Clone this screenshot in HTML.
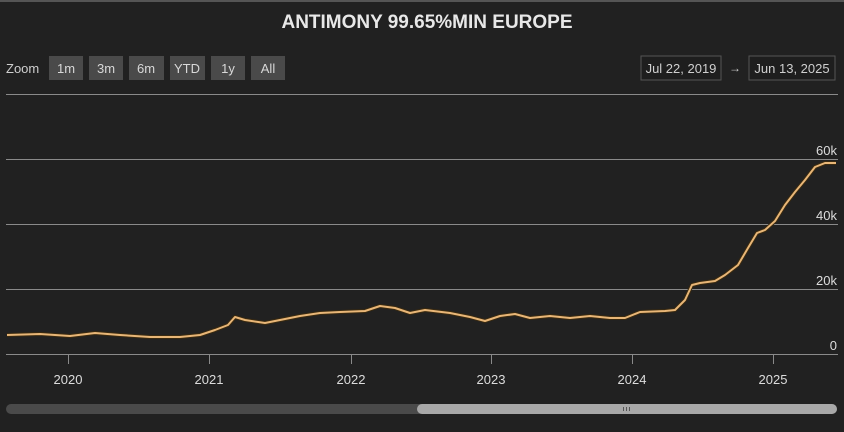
<!DOCTYPE html>
<html><head><style>
body{margin:0;background:#212121;width:844px;height:427px;overflow:hidden;font-family:"Liberation Sans",sans-serif;}
</style></head><body>
<svg width="844" height="427" xmlns="http://www.w3.org/2000/svg">
<rect width="844" height="427" fill="#212121"/>
<line x1="0" y1="1" x2="844" y2="1" stroke="#555" stroke-width="2"/>
<text x="427" y="28" fill="#e8e8e8" font-size="19" font-weight="bold" text-anchor="middle">ANTIMONY 99.65%MIN EUROPE</text>
<text x="6" y="73" fill="#cfcfcf" font-size="13">Zoom</text>
<g font-size="13" fill="#d8d8d8" text-anchor="middle">
<rect x="49" y="56" width="34" height="24" fill="#4a4a4a"/><text x="66" y="73">1m</text>
<rect x="89" y="56" width="34" height="24" fill="#4a4a4a"/><text x="106" y="73">3m</text>
<rect x="129" y="56" width="35" height="24" fill="#4a4a4a"/><text x="146" y="73">6m</text>
<rect x="170" y="56" width="35" height="24" fill="#4a4a4a"/><text x="187" y="73">YTD</text>
<rect x="211" y="56" width="34" height="24" fill="#4a4a4a"/><text x="228" y="73">1y</text>
<rect x="251" y="56" width="34" height="24" fill="#4a4a4a"/><text x="268" y="73">All</text>
</g>
<rect x="641" y="56" width="80" height="24" fill="#1e1e1e" stroke="#555"/>
<text x="681" y="73" fill="#cfcfcf" font-size="13" text-anchor="middle">Jul 22, 2019</text>
<text x="735" y="72" fill="#cfcfcf" font-size="12" text-anchor="middle">→</text>
<rect x="749" y="56" width="86" height="24" fill="#1e1e1e" stroke="#555"/>
<text x="792" y="73" fill="#cfcfcf" font-size="13" text-anchor="middle">Jun 13, 2025</text>
<g stroke="#8a8a8a" stroke-width="1">
<line x1="6" y1="94.5" x2="838" y2="94.5"/>
<line x1="6" y1="159.5" x2="838" y2="159.5"/>
<line x1="6" y1="224.5" x2="838" y2="224.5"/>
<line x1="6" y1="289.5" x2="838" y2="289.5"/>
<line x1="6" y1="354.5" x2="838" y2="354.5"/>
<line x1="68.5" y1="354" x2="68.5" y2="364"/>
<line x1="209.5" y1="354" x2="209.5" y2="364"/>
<line x1="351.5" y1="354" x2="351.5" y2="364"/>
<line x1="491.5" y1="354" x2="491.5" y2="364"/>
<line x1="632.5" y1="354" x2="632.5" y2="364"/>
<line x1="773.5" y1="354" x2="773.5" y2="364"/>
</g>
<g fill="#dcdcdc" font-size="13" text-anchor="end">
<text x="837" y="155">60k</text><text x="837" y="220">40k</text><text x="837" y="285">20k</text><text x="837" y="350">0</text>
</g>
<g fill="#dcdcdc" font-size="13" text-anchor="middle">
<text x="68" y="384">2020</text><text x="209" y="384">2021</text><text x="351" y="384">2022</text><text x="491" y="384">2023</text><text x="632" y="384">2024</text><text x="773" y="384">2025</text>
</g>
<polyline fill="none" stroke="#3a2a10" stroke-width="4" stroke-linejoin="round" points="7,335 40,334 70,336 95,333 120,335 150,337 180,337 200,335 215,330 228,325 235,317 245,320 265,323 280,320 300,316 320,313 340,312 365,311 380,306 395,308 410,313 425,310 450,313 470,317 485,321 500,316 515,314 530,318 550,316 570,318 590,316 610,318 625,318 640,312 665,311 675,310 685,300 692,285 700,283 715,281 725,275 738,265 748,248 757,233 765,230 775,221 785,205 795,192 805,180 815,167 825,163 836,163"/>
<polyline fill="none" stroke="#e8b677" stroke-width="2" stroke-linejoin="round" points="7,335 40,334 70,336 95,333 120,335 150,337 180,337 200,335 215,330 228,325 235,317 245,320 265,323 280,320 300,316 320,313 340,312 365,311 380,306 395,308 410,313 425,310 450,313 470,317 485,321 500,316 515,314 530,318 550,316 570,318 590,316 610,318 625,318 640,312 665,311 675,310 685,300 692,285 700,283 715,281 725,275 738,265 748,248 757,233 765,230 775,221 785,205 795,192 805,180 815,167 825,163 836,163"/>
<rect x="6" y="404" width="831" height="10" rx="5" fill="#4a4a4a"/>
<rect x="417" y="404" width="420" height="10" rx="5" fill="#a8a8a8"/>
<g stroke="#555"><line x1="623.5" y1="407" x2="623.5" y2="411"/><line x1="626.5" y1="407" x2="626.5" y2="411"/><line x1="629.5" y1="407" x2="629.5" y2="411"/></g>
</svg>
</body></html>
